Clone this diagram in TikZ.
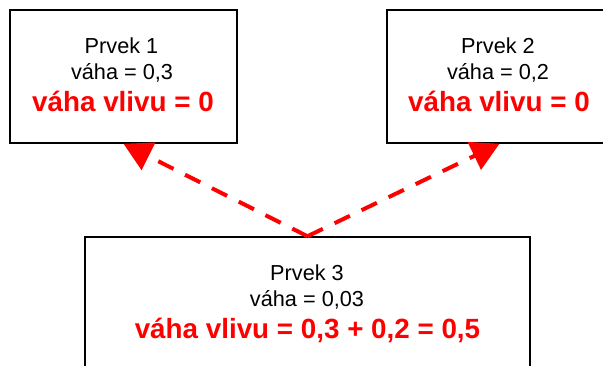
\documentclass[tikz,border=0pt]{standalone}
\usepackage{fontspec}
\setmainfont{Liberation Sans}
\usetikzlibrary{arrows.meta}
\definecolor{alertred}{RGB}{255,0,0}
\tikzset{
  box/.style={draw=black, line width=1.5pt, fill=white, inner sep=0pt},
  plain/.style={anchor=base, inner sep=0pt, font=\fontsize{21.7}{26}\selectfont},
  hot/.style={anchor=base, inner sep=0pt, text=alertred, font=\fontsize{27.8}{32}\selectfont\bfseries},
  link/.style={draw=alertred, line width=4pt, dash pattern=on 17pt off 13pt,
    -{Triangle[length=28pt,width=30pt]}}
}
\begin{document}
\begin{tikzpicture}[x=1pt,y=-1pt]
\clip (0,0) rectangle (603,365);
\fill[white] (0,0) rectangle (603,365);
% element boxes
\node[box, minimum width=227pt, minimum height=133pt] (b1) at (123.5,76.5) {};
\node[box, minimum width=225pt, minimum height=133pt] (b2) at (499.5,76.5) {};
\node[box, minimum width=445pt, minimum height=135pt] (b3) at (307.5,304.5) {};
% texts of element 1
\node[plain] (t1a) at (121.5,53) {Prvek 1};
\node[plain] (t1b) at (122,79.5) {váha = 0,3};
\node[hot]   (t1c) at (123,111.5) {váha vlivu = 0};
% texts of element 2
\node[plain] (t2a) at (498,53) {Prvek 2};
\node[plain] (t2b) at (498,79.5) {váha = 0,2};
\node[hot]   (t2c) at (499,111.5) {váha vlivu = 0};
% texts of element 3
\node[plain] (t3a) at (307,280) {Prvek 3};
\node[plain] (t3b) at (307,306) {váha = 0,03};
\node[hot]   (t3c) at (307.5,338) {váha vlivu = 0,3 + 0,2 = 0,5};
% influence links
\draw[link] (b3.north) -- (b1.south);
\draw[link] (b3.north) -- (b2.south);
\end{tikzpicture}
\end{document}
